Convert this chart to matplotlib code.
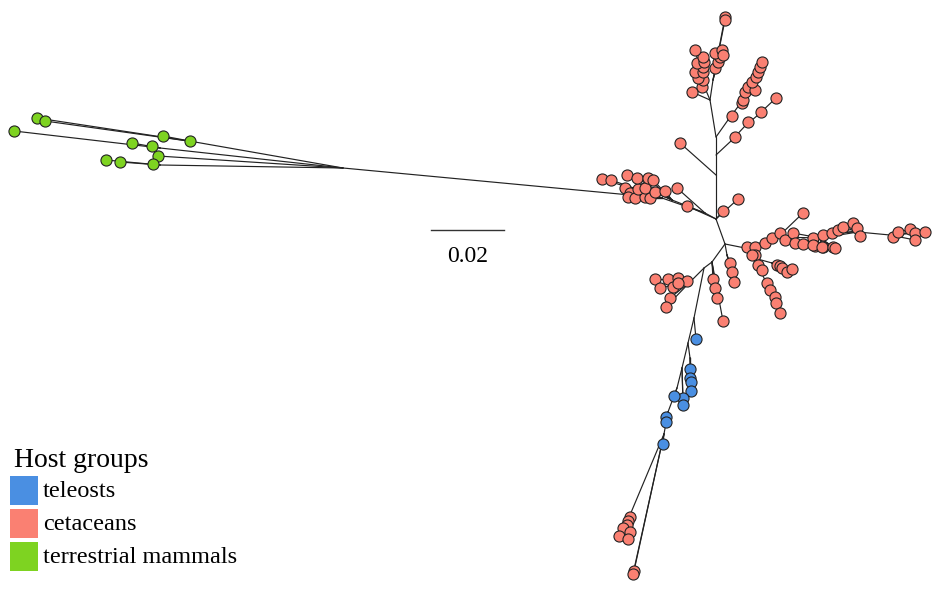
import matplotlib
matplotlib.use("Agg")
import matplotlib.pyplot as plt
from matplotlib.patches import Rectangle

# ---------------- data (positions, in pixel units) -------------
# internal nodes: name, x, y, parent
inode_name = ["C1", "P1", "P2", "P4", "G0", "g1", "g2", "g3",
              "T1", "T2", "a1", "a2", "a3", "T3", "b1", "b2", "b3", "T4", "c1", "T5", "d1",
              "N2", "R1", "R2", "R3", "R4", "R5", "D1", "D2", "E1", "F1",
              "H1", "N3", "K1", "B1", "B2", "B2a", "B3", "B4", "B5", "B6", "Q1"]
inode_x = [716, 705, 662, 672, 343, 195, 160, 160,
           716, 716, 731, 745, 758, 716, 728, 740, 750, 710, 705, 713, 716,
           725, 745, 778, 820, 858, 890, 754, 765, 772, 727,
           712, 704, 690, 694, 688, 690, 682, 677, 668, 664, 630]
inode_y = [219, 213, 198, 200, 168, 142, 148, 165,
           175, 155, 141, 126, 115, 137, 120, 104, 85, 100, 88, 80, 70,
           244, 248, 237, 238, 232, 235, 258, 280, 263, 255,
           262, 268, 282, 318, 343, 358, 368, 388, 412, 434, 515]
inode_parent = [None, "C1", "P1", "P1", "P2", "G0", "G0", "G0",
                "C1", "T1", "T2", "a1", "a2", "T2", "T3", "b1", "b2", "T3", "T4", "T4", "T5",
                "C1", "N2", "R1", "R2", "R3", "R4", "R1", "D1", "D1", "N2",
                "N2", "H1", "N3", "N3", "B1", "B2", "B2", "B3", "B4", "B5", "B6"]

# tips: x, y, parent, host group
terr_x = [37, 45, 163, 190, 14, 132, 152, 158, 106, 120, 153]
terr_y = [118, 121, 136, 141, 131, 143, 146, 156, 160, 162, 164]
terr_parent = ["g1", "g1", "g1", "g1", "g2", "g2", "g2", "G0", "g3", "g3", "g3"]

tel_x = [696, 690, 690, 691, 691, 683, 683, 674, 666, 666, 663]
tel_y = [339, 369, 378, 382, 391, 398, 405, 396, 417, 422, 444]
tel_parent = ["B1", "B2a", "B2a", "B2a", "B2a", "B3", "B3", "B4", "B5", "B5", "B6"]

cet_x = [602, 611, 625, 630, 628, 635, 645, 650, 638,
         627, 637, 645, 648, 653, 655, 665, 677, 687,
         723, 738, 680,
         735, 748, 761, 776, 732,
         742, 743, 745, 748, 755, 752, 756, 758, 760, 762,
         692, 702, 703, 698, 695, 703, 703, 697, 704, 703, 695,
         715, 718, 720, 715, 722, 723, 725, 725,
         747, 755, 755, 765, 772, 780, 785, 803,
         793, 795, 803, 813, 815, 823, 823, 813, 822, 833, 835,
         832, 838, 843, 853, 857, 860,
         893, 898, 910, 915, 925, 915,
         752, 758, 762, 767, 770, 775, 776, 780,
         777, 780, 782, 787, 792,
         730, 732, 734,
         713, 715, 717, 723,
         655, 668, 678, 687, 660, 673, 678, 670, 666,
         630, 628, 627, 623, 630, 619, 628, 634, 633]
cet_y = [179, 180, 188, 193, 197, 198, 197, 198, 189,
         175, 178, 188, 178, 180, 192, 191, 188, 206,
         211, 199, 143,
         137, 122, 112, 98, 116,
         103, 100, 92, 87, 90, 82, 77, 72, 67, 62,
         92, 87, 80, 78, 72, 72, 67, 63, 62, 57, 50,
         68, 62, 57, 53, 50, 55, 17, 20,
         247, 247, 255, 243, 238, 233, 240, 213,
         233, 243, 244, 238, 246, 247, 235, 245, 247, 247, 248,
         233, 230, 227, 223, 228, 236,
         237, 232, 229, 233, 232, 240,
         255, 265, 270, 283, 290, 297, 303, 313,
         265, 266, 268, 272, 269,
         263, 272, 282,
         279, 288, 298, 321,
         279, 279, 278, 281, 288, 287, 283, 298, 307,
         517, 521, 525, 528, 532, 536, 539, 571, 574]
cet_parent = ["P2"] * 9 + ["P4"] * 7 + ["P1", "C1",
              "C1", "C1", "T1",
              "a1", "a2", "a3", "a3", "b1"] + ["b2"] * 5 + ["b3"] * 5 + \
             ["T4"] + ["c1"] * 10 + ["d1"] * 6 + ["T5", "T5"] + \
             ["R1"] * 3 + ["R2"] * 5 + ["R3"] * 11 + ["R4"] * 6 + ["R5"] * 6 + \
             ["D1"] * 3 + ["D2"] * 5 + ["E1"] * 5 + ["F1"] * 3 + ["H1"] * 4 + \
             ["K1"] * 9 + ["Q1"] * 7 + ["B6", "B6"]

group_names = ["teleosts", "cetaceans", "terrestrial mammals"]
group_colors = ["#4A8FE2", "#FA8072", "#7ED321"]
scale_value = 0.02
scale_len = 72.6   # pixel length of 0.02 on the picture

# ---------------- drawing ----------------
plt.rcParams['font.family'] = ['Liberation Serif', 'DejaVu Serif']
fig = plt.figure(figsize=(9.35, 5.89), dpi=100)
ax = fig.add_axes([0, 0, 1, 1])
ax.set_xlim(0, 935)
ax.set_ylim(589, 0)
ax.axis('off')

pos = {n: (x, y) for n, x, y in zip(inode_name, inode_x, inode_y)}
lc = "#222222"
lw = 0.85
for n, p in zip(inode_name, inode_parent):
    if p is not None:
        ax.plot([pos[p][0], pos[n][0]], [pos[p][1], pos[n][1]], color=lc, lw=lw,
                solid_capstyle='round', zorder=1)

for xs, ys, ps in [(terr_x, terr_y, terr_parent), (tel_x, tel_y, tel_parent),
                   (cet_x, cet_y, cet_parent)]:
    for x, y, p in zip(xs, ys, ps):
        ax.plot([pos[p][0], x], [pos[p][1], y], color=lc, lw=lw, zorder=1)

ms = 64
ax.scatter(cet_x, cet_y, s=ms, c=group_colors[1], edgecolors='#222222', linewidths=0.8, zorder=3)
ax.scatter(tel_x, tel_y, s=ms, c=group_colors[0], edgecolors='#222222', linewidths=0.8, zorder=3)
ax.scatter(terr_x, terr_y, s=ms, c=group_colors[2], edgecolors='#222222', linewidths=0.8, zorder=3)

# scale bar
ax.plot([431, 431 + scale_len], [230, 230], color='#333333', lw=1.0)
ax.text(431 + scale_len / 2, 256, f"{scale_value:.2f}", ha='center', va='center', fontsize=17)

# legend
ax.text(14, 467, "Host groups", ha='left', va='baseline', fontsize=20)
for i, (name, col) in enumerate(zip(group_names, group_colors)):
    y0 = 476 + i * 33
    ax.add_patch(Rectangle((10, y0), 28, 29, facecolor=col, edgecolor='none'))
    ax.text(43, y0 + 21, name, ha='left', va='baseline', fontsize=17.5)

fig.savefig("out.png", dpi=100)
